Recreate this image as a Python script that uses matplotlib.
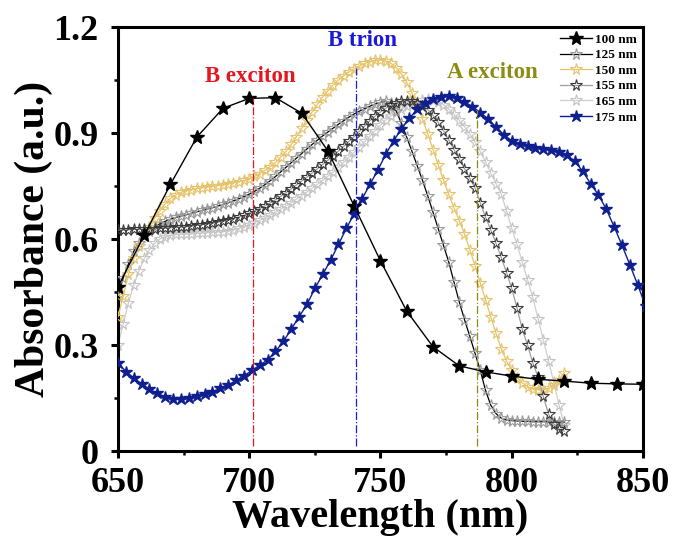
import numpy as np
import matplotlib
matplotlib.use("Agg")
import matplotlib.pyplot as plt
from matplotlib.ticker import MultipleLocator

plt.rcParams['font.family'] = ['Liberation Serif', 'DejaVu Serif']
plt.rcParams['font.weight'] = 'bold'

# wavelength grids (nm)
wl_100 = list(range(650, 851, 10))
wl_thin = list(range(650, 821, 2))
wl_175 = list(range(650, 852, 3))

abs_100 = [0.465, 0.611, 0.755, 0.888, 0.970, 0.998, 1.000, 0.956, 0.849, 0.693,
           0.538, 0.396, 0.295, 0.241, 0.224, 0.212, 0.203, 0.198, 0.192, 0.190,
           0.189]

abs_125 = [0.44, 0.49, 0.53, 0.565, 0.59, 0.61, 0.624, 0.635, 0.643, 0.65,
           0.656, 0.661, 0.665, 0.669, 0.673, 0.677, 0.681, 0.685, 0.689, 0.693,
           0.698, 0.703, 0.708, 0.714, 0.72, 0.727, 0.735, 0.744, 0.754, 0.765,
           0.777, 0.79, 0.803, 0.816, 0.829, 0.842, 0.855, 0.868, 0.88, 0.892,
           0.903, 0.914, 0.925, 0.935, 0.945, 0.954, 0.962, 0.969, 0.976, 0.982,
           0.987, 0.99, 0.985, 0.962, 0.927, 0.888, 0.848, 0.807, 0.766, 0.722,
           0.676, 0.629, 0.582, 0.535, 0.478, 0.422, 0.372, 0.325, 0.277, 0.228,
           0.172, 0.13, 0.106, 0.093, 0.088, 0.086, 0.085, 0.084, 0.084, 0.083,
           0.083, 0.083, 0.083, 0.082, 0.082, 0.082]

abs_150 = [0.38, 0.44, 0.50, 0.545, 0.58, 0.61, 0.635, 0.66, 0.68, 0.70,
           0.715, 0.725, 0.732, 0.737, 0.74, 0.743, 0.745, 0.747, 0.749, 0.751,
           0.753, 0.756, 0.759, 0.762, 0.766, 0.770, 0.777, 0.785, 0.794, 0.805,
           0.817, 0.831, 0.848, 0.868, 0.89, 0.913, 0.937, 0.96, 0.982, 1.002,
           1.02, 1.036, 1.05, 1.062, 1.073, 1.082, 1.09, 1.097, 1.102, 1.106,
           1.107, 1.104, 1.097, 1.085, 1.067, 1.043, 1.013, 0.978, 0.94, 0.897,
           0.853, 0.81, 0.767, 0.726, 0.688, 0.652, 0.614, 0.57, 0.525, 0.476,
           0.428, 0.38, 0.333, 0.29, 0.255, 0.228, 0.208, 0.193, 0.182, 0.176,
           0.173, 0.173, 0.178, 0.187, 0.2, 0.222]

abs_155 = [0.625, 0.626, 0.626, 0.627, 0.627, 0.628, 0.628, 0.629, 0.63, 0.631,
           0.632, 0.633, 0.634, 0.635, 0.637, 0.639, 0.641, 0.643, 0.645, 0.648,
           0.651, 0.654, 0.658, 0.662, 0.667, 0.673, 0.679, 0.686, 0.694, 0.702,
           0.711, 0.721, 0.731, 0.742, 0.753, 0.764, 0.775, 0.787, 0.799, 0.811,
           0.823, 0.836, 0.849, 0.862, 0.876, 0.89, 0.905, 0.92, 0.935, 0.948,
           0.96, 0.97, 0.978, 0.985, 0.99, 0.992, 0.99, 0.985, 0.977, 0.966,
           0.95, 0.93, 0.906, 0.88, 0.853, 0.826, 0.799, 0.772, 0.745, 0.703,
           0.662, 0.626, 0.588, 0.548, 0.505, 0.46, 0.405, 0.345, 0.3, 0.25,
           0.21, 0.155, 0.105, 0.077, 0.062, 0.056]

abs_165 = [0.30, 0.36, 0.42, 0.47, 0.51, 0.545, 0.57, 0.588, 0.60, 0.607,
           0.611, 0.613, 0.614, 0.615, 0.615, 0.616, 0.617, 0.618, 0.619, 0.62,
           0.621, 0.623, 0.626, 0.63, 0.635, 0.641, 0.646, 0.653, 0.66, 0.668,
           0.676, 0.685, 0.694, 0.703, 0.713, 0.723, 0.733, 0.744, 0.755, 0.766,
           0.778, 0.79, 0.803, 0.817, 0.831, 0.846, 0.861, 0.876, 0.891, 0.907,
           0.922, 0.937, 0.949, 0.959, 0.968, 0.976, 0.983, 0.989, 0.993, 0.995,
           0.994, 0.989, 0.98, 0.968, 0.953, 0.936, 0.918, 0.898, 0.875, 0.848,
           0.818, 0.787, 0.757, 0.727, 0.68, 0.63, 0.585, 0.535, 0.485, 0.435,
           0.375, 0.315, 0.255, 0.195, 0.13, 0.075]

abs_175 = [0.25, 0.225, 0.207, 0.19, 0.175, 0.163, 0.153, 0.148, 0.146, 0.149,
           0.155, 0.161, 0.168, 0.177, 0.187, 0.200, 0.213, 0.228, 0.243, 0.258,
           0.282, 0.31, 0.345, 0.38, 0.415, 0.46, 0.5, 0.54, 0.585, 0.63,
           0.672, 0.714, 0.755, 0.795, 0.84, 0.878, 0.912, 0.942, 0.967, 0.986,
           0.997, 1.003, 1.004, 0.998, 0.988, 0.975, 0.958, 0.94, 0.917, 0.895,
           0.878, 0.868, 0.863, 0.859, 0.855, 0.851, 0.846, 0.838, 0.82, 0.792,
           0.757, 0.725, 0.685, 0.635, 0.582, 0.527, 0.47, 0.41]

# peak markers
peak_names = ['B exciton', 'B trion', 'A exciton']
peak_pos = [701.5, 740.6, 786.8]
label_pos = [(700.3, 1.06), (743.0, 1.163), (792.5, 1.07)]
peak_colors = ['#e3171e', '#1a1ad8', '#8c8c14']

fig = plt.figure(figsize=(6.75, 5.37), dpi=100)
ax = fig.add_axes([0.1748, 0.1601, 0.7778, 0.7896])

ax.plot(wl_100, abs_100, '-', color='black', lw=1.0, marker='*', ms=10,
        mfc='black', mec='black', label='100 nm', zorder=6)
ax.plot(wl_thin, abs_125, '-', color='black', lw=0.9, marker='*', ms=8.5,
        mfc='none', mec='#9a9a9a', mew=0.8, label='125 nm', zorder=3)
ax.plot(wl_thin, abs_150, '-', color='#e6c36a', lw=0.9, marker='*', ms=8.5,
        mfc='none', mec='#e6c36a', mew=0.8, label='150 nm', zorder=3)
ax.plot(wl_thin, abs_155, '-', color='#a0a0a0', lw=0.9, marker='*', ms=8.5,
        mfc='none', mec='#3a3a3a', mew=0.8, label='155 nm', zorder=3)
ax.plot(wl_thin, abs_165, '-', color='#cfcfcf', lw=0.9, marker='*', ms=8.5,
        mfc='none', mec='#c4c4c4', mew=0.8, label='165 nm', zorder=2)
ax.plot(wl_175, abs_175, '-', color='#0f1f8f', lw=1.0, marker='*', ms=9,
        mfc='#0f1f8f', mec='#0f1f8f', label='175 nm', zorder=5)

# dash-dot lines up to the curve they touch
touch = [(wl_100, abs_100), (wl_thin, abs_150), (wl_175, abs_175)]
for name, pos, lp, c, (tx, ty) in zip(peak_names, peak_pos, label_pos, peak_colors, touch):
    top = np.interp(pos, tx, ty)
    ax.vlines(pos, 0.015, top, colors=c, linestyles='-.', lw=0.9, zorder=7)
    ax.text(lp[0], lp[1], name, color=c, fontsize=16.5, ha='center', va='center')

ax.set_xlim(650, 850)
ax.set_ylim(0, 1.2)
ax.set_xticks([650, 700, 750, 800, 850])
ax.set_yticks([0, 0.3, 0.6, 0.9, 1.2])
ax.set_yticklabels(['0', '0.3', '0.6', '0.9', '1.2'])
ax.xaxis.set_minor_locator(MultipleLocator(25))
ax.yaxis.set_minor_locator(MultipleLocator(0.15))
ax.tick_params(which='major', direction='out', length=5, width=2.2, labelsize=26)
ax.tick_params(axis='x', which='major', pad=6.5)
ax.tick_params(axis='y', which='major', pad=9)
ax.tick_params(which='minor', direction='out', length=3, width=1.8)
for s in ax.spines.values():
    s.set_linewidth(2.2)

fig.text(380.5 / 675, 1 - 527 / 537, 'Wavelength (nm)', fontsize=29,
         ha='center', va='baseline')
fig.text(34 / 675, 1 - 239 / 537, 'Absorbance (a.u.)', fontsize=30,
         ha='center', va='center', rotation=90)

ax.legend(loc='upper right', bbox_to_anchor=(1.0, 1.0), frameon=False,
          fontsize=9.5, handlelength=2.4, handletextpad=0.2, labelspacing=0.25,
          borderaxespad=0.2, borderpad=0.3)

fig.savefig('out.png', dpi=100)
